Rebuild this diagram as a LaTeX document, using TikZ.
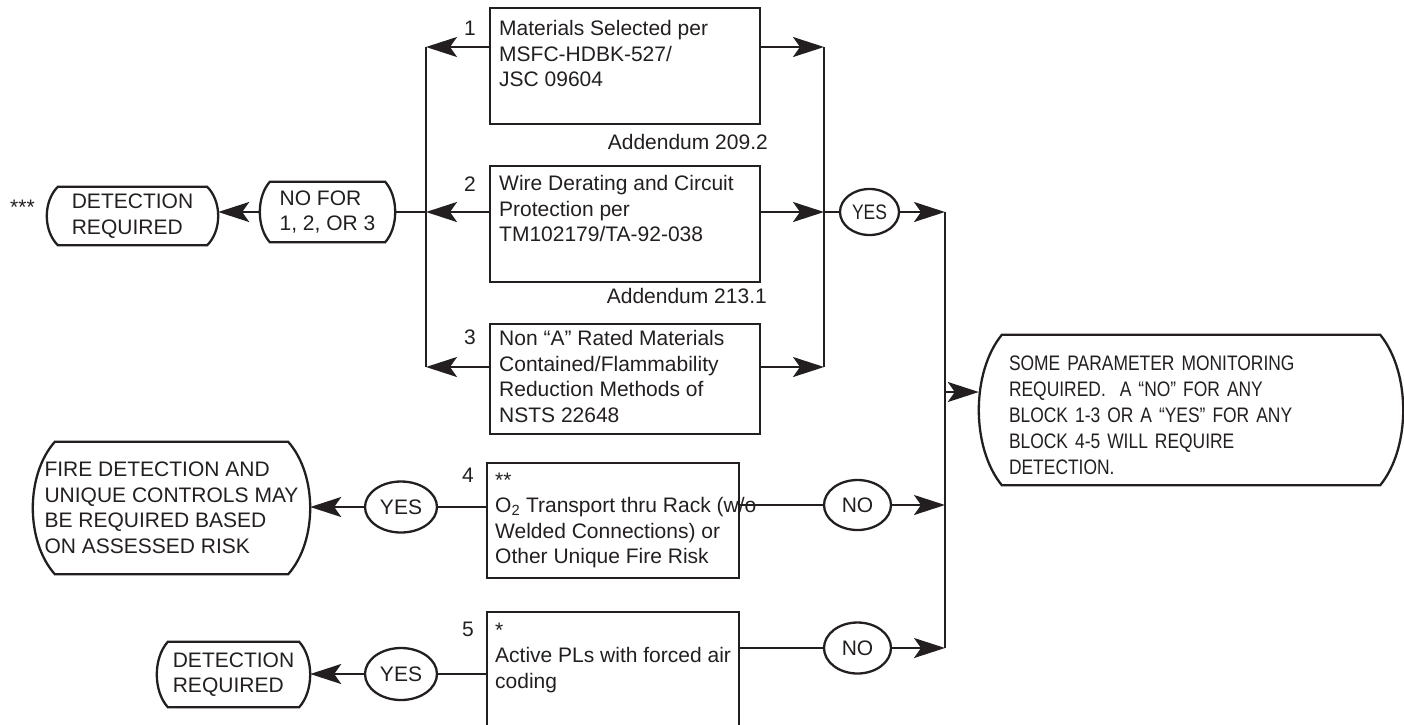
\documentclass[tikz,border=0pt]{standalone}
\usepackage{fontspec}
\setmainfont{Liberation Sans}
\newfontfamily\narrowfont{Liberation Sans}[FakeStretch=0.83]
\usetikzlibrary{shapes.geometric,arrows.meta,calc}
\definecolor{ink}{RGB}{35,31,32}
\newcommand{\myfs}{\fontsize{21}{25.5}\selectfont}
\newcommand{\tstrut}{\rule{0pt}{16pt}}
\newcommand{\termoutline}[2]{%
  \draw[line] ([xshift=#2]#1.north west) -- ([xshift=-#2]#1.north east)
    .. controls ($(#1.north east)!0.25!(#1.south east)+(#2/3,0)$) and ($(#1.north east)!0.75!(#1.south east)+(#2/3,0)$) .. ([xshift=-#2]#1.south east)
    -- ([xshift=#2]#1.south west)
    .. controls ($(#1.north west)!0.75!(#1.south west)+(-#2/3,0)$) and ($(#1.north west)!0.25!(#1.south west)+(-#2/3,0)$) .. cycle;}
\tikzset{
  line/.style={line width=2.3pt, draw=ink},
  arr/.style={line, -{Stealth[length=31pt,width=20pt,inset=7pt]}},
  boxnode/.style={draw=ink, line width=2.3pt, anchor=north west, inner sep=0pt},
  boxtext/.style={anchor=north west, align=left, inner sep=0pt, text=ink, font=\myfs},
  yesno/.style={ellipse, draw=ink, line width=2.3pt, inner sep=0pt, text=ink, font=\myfs},
  term/.style={inner sep=0pt, align=left, text=ink, font=\myfs},
  numlabel/.style={inner sep=0pt, text=ink, font=\myfs}
}
\begin{document}
\begin{tikzpicture}[x=1pt,y=-1pt]
\useasboundingbox (0,0) rectangle (1404,724);

% boxes 1-5
\node[boxnode, minimum width=270, minimum height=116] (b1) at (489,7) {};
\node[boxnode, minimum width=270, minimum height=116] (b2) at (489,165) {};
\node[boxnode, minimum width=270, minimum height=110] (b3) at (489,323) {};
\node[boxnode, minimum width=252, minimum height=115] (b4) at (486,462) {};
\node[boxnode, minimum width=252, minimum height=116] (b5) at (486,611) {};

\node[boxtext] (t1) at (499,19.5) {\tstrut Materials Selected per\\MSFC-HDBK-527/\\JSC 09604};
\node[boxtext] (t2) at (499,174.5) {\tstrut Wire Derating and Circuit\\Protection per\\TM102179/TA-92-038};
\node[boxtext] (t3) at (499,329.5) {\tstrut Non “A” Rated Materials\\Contained/Flammability\\Reduction Methods of\\NSTS 22648};
\node[boxtext] (t4) at (495,471) {\tstrut **\\O\textsubscript{2} Transport thru Rack (w/o\\Welded Connections) or\\Other Unique Fire Risk};
\node[boxtext] (t5) at (495,621) {\tstrut *\\Active PLs with forced air\\coding};

% numbers and notes
\node[numlabel] (n1) at (470,28) {1};
\node[numlabel] (n2) at (470,184) {2};
\node[numlabel] (n3) at (470,337) {3};
\node[numlabel] (n4) at (468,475) {4};
\node[numlabel] (n5) at (468,629) {5};
\node[numlabel, anchor=east] (ad1) at (768,142) {Addendum 209.2};
\node[numlabel, anchor=east] (ad2) at (767,296) {Addendum 213.1};
\node[numlabel, anchor=base west] (stars) at (10,214) {***};

% terminals
\node[term, minimum width=171, minimum height=58] (det1) at (132.5,216) {DETECTION\\REQUIRED};
\termoutline{det1}{11}
\node[term, minimum width=135, minimum height=60] (nofor) at (327.5,212) {NO FOR\\1, 2, OR 3};
\termoutline{nofor}{10}
\node[term, minimum width=277, minimum height=132] (fire) at (171.5,508) {FIRE DETECTION AND\\UNIQUE CONTROLS MAY\\BE REQUIRED BASED\\ON ASSESSED RISK};
\termoutline{fire}{22}
\node[term, minimum width=153, minimum height=65] (det2) at (233.5,674.5) {DETECTION\\REQUIRED};
\termoutline{det2}{11}
\node[term, font=\narrowfont\fontsize{21}{26}\selectfont, text width=364pt, inner xsep=30pt, minimum height=150] (term) at (1191,410) {\rule{0pt}{25pt}SOME PARAMETER MONITORING\\REQUIRED.\ \ A “NO” FOR ANY\\BLOCK 1-3 OR A “YES” FOR ANY\\BLOCK 4-5 WILL REQUIRE\\DETECTION.};
\termoutline{term}{23}

% yes / no ellipses
\node[yesno, font=\narrowfont\myfs, minimum width=59, minimum height=46] (yes1) at (869.5,212) {YES};
\node[yesno, minimum width=72, minimum height=51] (yes2) at (401,507) {YES};
\node[yesno, minimum width=72, minimum height=52] (yes3) at (401,674) {YES};
\node[yesno, minimum width=67, minimum height=50] (no1) at (857.5,505) {NO};
\node[yesno, minimum width=67, minimum height=51] (no2) at (857.5,648) {NO};

% bus coordinates
\coordinate (L1) at (426,47);
\coordinate (L2) at (426,212);
\coordinate (L3) at (426,367);
\coordinate (R1) at (824,47);
\coordinate (R2) at (824,212);
\coordinate (R3) at (824,367);
\coordinate (B1) at (945,212);
\coordinate (Bm) at (945,392);
\coordinate (B4) at (945,505);
\coordinate (B5) at (945,648);

% left bus
\draw[arr] (b1.west |- L1) -- (L1);
\draw[arr] (b2.west |- L2) -- (L2);
\draw[arr] (b3.west |- L3) -- (L3);
\draw[line] (L1) -- (L3);
\draw[line] (L2) -- (nofor.east);
\draw[arr] (nofor.west) -- (det1.east |- nofor.west);

% right bus
\draw[arr] (b1.east |- R1) -- (R1);
\draw[arr] (b2.east |- R2) -- (R2);
\draw[arr] (b3.east |- R3) -- (R3);
\draw[line] (R1) -- (R3);
\draw[line] (R2) -- (yes1.west);
\draw[arr] (yes1.east) -- (B1);
\draw[line] (B1) -- (B5);
\draw[arr] (Bm) -- (term.west |- Bm);

% blocks 4 and 5
\draw[line] (b4.east |- no1) -- (no1.west);
\draw[arr] (no1.east) -- (B4);
\draw[line] (b5.east |- no2) -- (no2.west);
\draw[arr] (no2.east) -- (B5);
\draw[line] (b4.west |- yes2) -- (yes2.east);
\draw[arr] (yes2.west) -- (fire.east |- yes2.west);
\draw[line] (b5.west |- yes3) -- (yes3.east);
\draw[arr] (yes3.west) -- (det2.east |- yes3.west);
\end{tikzpicture}
\end{document}
